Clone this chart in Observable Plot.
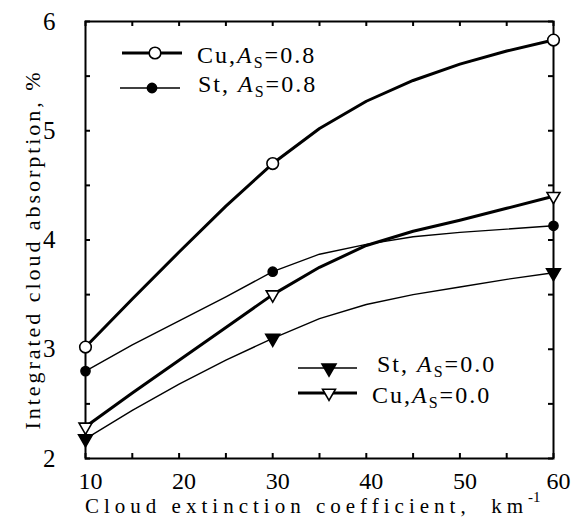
<!DOCTYPE html>
<html><head><meta charset="utf-8">
<script src="https://cdn.jsdelivr.net/npm/d3@7"></script>
<script src="https://cdn.jsdelivr.net/npm/@observablehq/plot@0.6"></script>
<style>
html,body{margin:0;padding:0;background:#fff;}
#chart{width:572px;height:519px;}
#chart svg, #chart svg text, #chart svg tspan{font-family:"Liberation Serif" !important;}
</style></head><body><div id="chart"></div>
<script>
// ---- data ----
const extinction = [10, 15, 20, 25, 30, 35, 40, 45, 50, 55, 60];
const cuA08 = [3.02, 3.46, 3.89, 4.31, 4.70, 5.02, 5.27, 5.46, 5.61, 5.73, 5.83];
const stA08 = [2.80, 3.04, 3.26, 3.48, 3.71, 3.87, 3.96, 4.03, 4.07, 4.10, 4.13];
const cuA00 = [2.29, 2.60, 2.90, 3.20, 3.50, 3.75, 3.95, 4.08, 4.18, 4.29, 4.40];
const stA00 = [2.18, 2.44, 2.68, 2.90, 3.10, 3.28, 3.41, 3.50, 3.57, 3.64, 3.70];
const markerAt = [10, 30, 60];
const xTickLabels = [10, 20, 30, 40, 50, 60];
const xMinorTicks = [10, 15, 20, 25, 30, 35, 40, 45, 50, 55, 60];
const yTickLabels = [2, 3, 4, 5, 6];
const yMinorTicks = [2, 2.5, 3, 3.5, 4, 4.5, 5, 5.5, 6];
const seriesNames = ["Cu08", "St08", "Cu00", "St00"];
const legendCloud = ["Cu", "St", "St", "Cu"];
const legendAlbedo = ["0.8", "0.8", "0.0", "0.0"];
const xTitle = "Cloud extinction coefficient,  km";
const xTitleSup = "-1";
const yTitle = "Integrated cloud absorption, %";

// ---- build table ----
const seriesValues = {Cu08: cuA08, St08: stA08, Cu00: cuA00, St00: stA00};
const rows = [];
seriesNames.forEach(s => seriesValues[s].forEach((v, i) => rows.push({series: s, x: extinction[i], y: v})));
const markers = rows.filter(d => markerAt.includes(d.x));

const W = 572, H = 519, mL = 85, mR = 19, mT = 21, mB = 61;
const frameH = H - mT - mB, frameW = W - mL - mR;
const fontFamily = "Liberation Serif";

const plot = Plot.plot({
  width: W, height: H,
  marginLeft: mL, marginRight: mR, marginTop: mT, marginBottom: mB,
  style: {fontFamily, background: "white", color: "black", overflow: "visible"},
  x: {domain: [10, 60]},
  y: {domain: [2, 6]},
  marks: [
    Plot.line(rows.filter(d => d.series.startsWith("Cu")), {x: "x", y: "y", z: "series", stroke: "black", strokeWidth: 3, strokeLinejoin: "round"}),
    Plot.line(rows.filter(d => d.series.startsWith("St")), {x: "x", y: "y", z: "series", stroke: "black", strokeWidth: 1.4, strokeLinejoin: "round"}),
    Plot.frame({stroke: "black", strokeWidth: 2}),
    Plot.tickX(xMinorTicks, {x: d => d, insetTop: frameH - 5, strokeWidth: 2}),
    Plot.tickX(xMinorTicks, {x: d => d, insetBottom: frameH - 5, strokeWidth: 2}),
    Plot.tickY(yMinorTicks, {y: d => d, insetRight: frameW - 5, strokeWidth: 2}),
    Plot.tickY(yMinorTicks, {y: d => d, insetLeft: frameW - 5, strokeWidth: 2}),
    Plot.axisX(xTickLabels, {tickSize: 0, tickPadding: 13, fontSize: 24, dx: 5, label: null, tickFormat: d => String(d)}),
    Plot.axisY(yTickLabels, {tickSize: 0, tickPadding: 30, fontSize: 25, label: null, tickFormat: d => String(d)}),
    Plot.dot(markers.filter(d => d.series === "Cu08"), {x: "x", y: "y", r: 5.8, fill: "white", stroke: "black", strokeWidth: 1.6}),
    Plot.dot(markers.filter(d => d.series === "St08"), {x: "x", y: "y", r: 4.6, fill: "black", stroke: "black"}),
    Plot.dot(markers.filter(d => d.series === "Cu00"), {x: "x", y: "y", symbol: "triangle", rotate: 180, r: 4.8, fill: "white", stroke: "black", strokeWidth: 1.6}),
    Plot.dot(markers.filter(d => d.series === "St00"), {x: "x", y: "y", symbol: "triangle", rotate: 180, r: 5.2, fill: "black", stroke: "black"})
  ]
});
plot.setAttribute("font-family", fontFamily);
document.getElementById("chart").appendChild(plot);

// ---- overlay: axis titles and legends ----
const svg = d3.select(plot);
const g = svg.append("g")
  .attr("font-family", fontFamily)
  .attr("text-anchor", "start")
  .attr("fill", "black");

g.append("text")
  .attr("transform", "translate(40,251) rotate(-90)")
  .attr("text-anchor", "middle")
  .attr("font-size", 22)
  .attr("textLength", 357).attr("lengthAdjust", "spacing")
  .text(yTitle);

g.append("text")
  .attr("x", 85).attr("y", 513)
  .attr("font-size", 21)
  .attr("xml:space", "preserve")
  .attr("textLength", 438).attr("lengthAdjust", "spacing")
  .text(xTitle);
g.append("text")
  .attr("x", 528).attr("y", 502)
  .attr("font-size", 15)
  .text(xTitleSup);

const legendLayout = [
  {x1: 122, x2: 182, y: 53, mx: 155, tx: 197, ty: 63, sw: 3, sym: "circle", fill: "white", r: 5.8, gap: ""},
  {x1: 120, x2: 180, y: 88, mx: 152, tx: 198, ty: 92, sw: 1.4, sym: "circle", fill: "black", r: 4.6, gap: " "},
  {x1: 298, x2: 357, y: 368, mx: 329, tx: 377, ty: 372, sw: 1.4, sym: "triangle", fill: "black", r: 5.2, gap: " "},
  {x1: 298, x2: 357, y: 393, mx: 329, tx: 372, ty: 403, sw: 3, sym: "triangle", fill: "white", r: 4.8, gap: ""}
];

legendLayout.forEach((L, i) => {
  g.append("line").attr("x1", L.x1).attr("x2", L.x2).attr("y1", L.y).attr("y2", L.y)
    .attr("stroke", "black").attr("stroke-width", L.sw);
  const type = L.sym === "circle" ? d3.symbolCircle : d3.symbolTriangle;
  g.append("path")
    .attr("d", d3.symbol().type(type).size(Math.PI * L.r * L.r)())
    .attr("transform", `translate(${L.mx},${L.y})` + (L.sym === "triangle" ? " rotate(180)" : ""))
    .attr("fill", L.fill).attr("stroke", "black").attr("stroke-width", 1.6);
  const t = g.append("text").attr("x", L.tx).attr("y", L.ty)
    .attr("font-size", 24).attr("letter-spacing", "2px").attr("xml:space", "preserve");
  t.append("tspan").text(legendCloud[i] + "," + L.gap);
  t.append("tspan").attr("font-style", "italic").text("A");
  t.append("tspan").attr("font-size", 16).attr("dy", 5).text("S");
  t.append("tspan").attr("dy", -5).text("=" + legendAlbedo[i]);
});
</script>
</body></html>
